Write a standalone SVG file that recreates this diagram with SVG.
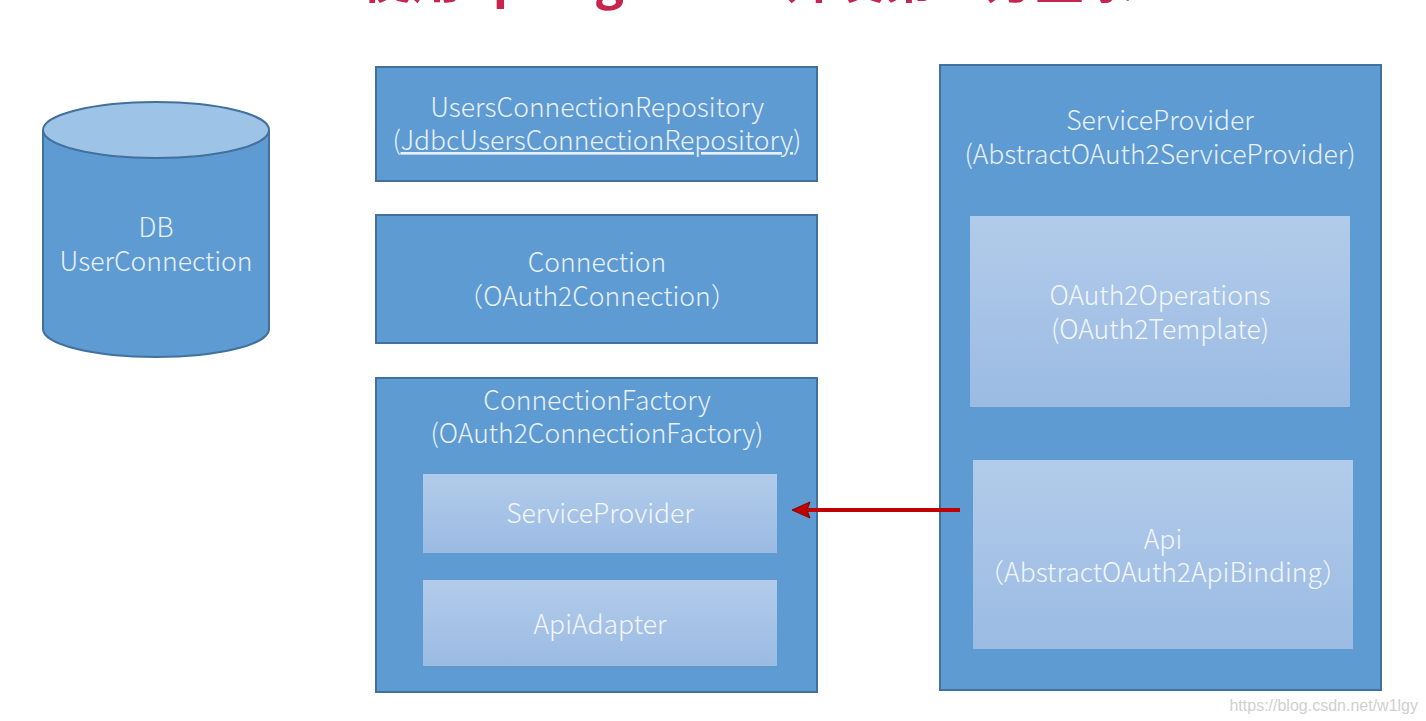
<svg xmlns="http://www.w3.org/2000/svg" width="1426" height="721" viewBox="0 0 1426 721">
<defs>
<style>
.box{fill:#5E9BD3;stroke:#41719C;stroke-width:2}
.inner{fill:url(#ig);stroke:none}
.t{font-family:"Noto Sans CJK SC","Noto Sans",sans-serif;font-weight:300;font-size:26.5px;fill:#E8F0F9;text-anchor:middle}
.ti{font-family:"Noto Sans CJK SC","Noto Sans",sans-serif;font-weight:300;font-size:26.5px;fill:#F2F6FB;text-anchor:middle}
</style>
<linearGradient id="ig" x1="0" y1="0" x2="0" y2="1">
<stop offset="0" stop-color="#B2CBEA"/>
<stop offset="1" stop-color="#9BBBE3"/>
</linearGradient>
<clipPath id="titleclip"><rect x="0" y="0" width="1426" height="12"/></clipPath>
<marker id="ah" markerWidth="20" markerHeight="18" refX="3" refY="9" orient="auto" markerUnits="userSpaceOnUse">
<path d="M1,1 L19,9 L1,17 L4,9 z" fill="#C00000" stroke="#8B0000" stroke-width="1"/>
</marker>
</defs>
<rect width="1426" height="721" fill="#FFFFFF"/>
<g clip-path="url(#titleclip)">
<text x="748" y="-2" font-family="'Noto Sans CJK SC','Noto Sans',sans-serif" font-weight="bold" font-size="50" fill="#C7254E" text-anchor="middle">使用Spring Social开发第三方登录</text>
</g>

<g id="db">
<path d="M43,130 L43,329 A113,28 0 0 0 269,329 L269,130" fill="#5E9BD3" stroke="#41719C" stroke-width="2"/>
<ellipse cx="156" cy="130" rx="113" ry="28" fill="#9DC3E6" stroke="#41719C" stroke-width="2"/>
<text class="t" x="156" y="237">DB<tspan x="156" dy="34">UserConnection</tspan></text>
</g>

<g id="usersConnectionRepository">
<rect class="box" x="376" y="67" width="441" height="114"/>
<text class="t" x="597" y="117">UsersConnectionRepository<tspan x="597" dy="33">(</tspan><tspan text-decoration="underline">JdbcUsersConnectionRepository</tspan>)</text>
</g>

<g id="connection">
<rect class="box" x="376" y="215" width="441" height="128"/>
<text class="t" x="597" y="272">Connection<tspan x="597" dy="34">（OAuth2Connection）</tspan></text>
</g>

<g id="connectionFactory">
<rect class="box" x="376" y="378" width="441" height="314"/>
<text class="t" x="597" y="410">ConnectionFactory<tspan x="597" dy="33">(OAuth2ConnectionFactory)</tspan></text>
</g>

<g id="cfServiceProvider">
<rect class="inner" x="423" y="474" width="354" height="79"/>
<text class="ti" x="600" y="523">ServiceProvider</text>
</g>

<g id="apiAdapter">
<rect class="inner" x="423" y="580" width="354" height="86"/>
<text class="ti" x="600" y="634">ApiAdapter</text>
</g>

<g id="serviceProvider">
<rect class="box" x="940" y="65" width="441" height="625"/>
<text class="t" x="1160" y="130">ServiceProvider<tspan x="1160" dy="34">(AbstractOAuth2ServiceProvider)</tspan></text>
</g>

<g id="oauth2Operations">
<rect class="inner" x="970" y="216" width="380" height="191"/>
<text class="ti" x="1160" y="305">OAuth2Operations<tspan x="1160" dy="34">(OAuth2Template)</tspan></text>
</g>

<g id="api">
<rect class="inner" x="973" y="460" width="380" height="189"/>
<text class="ti" x="1163" y="549">Api<tspan x="1163" dy="33">（AbstractOAuth2ApiBinding）</tspan></text>
</g>

<g id="connectors">
<line x1="960" y1="510" x2="808" y2="510" stroke="#C00000" stroke-width="4" marker-end="url(#ah)"/>
</g>

<text x="1418" y="711" font-family="'Liberation Sans',Arial,sans-serif" font-size="16" fill="#D0D0D0" text-anchor="end">https://blog.csdn.net/w1lgy</text>
</svg>
